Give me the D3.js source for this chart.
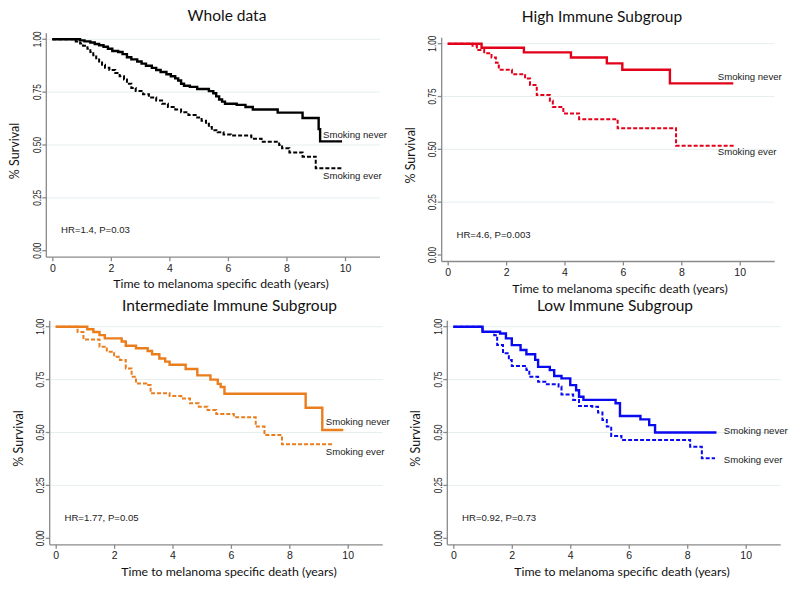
<!DOCTYPE html>
<html lang="en">

<head>
  <title>Kaplan-Meier curves</title>
  <meta charset="UTF-8">
  <script src="https://cdn.jsdelivr.net/npm/d3@7"></script>
  <style>
    body { margin: 0; background: #fff; }
  </style>
</head>

<body>
  <svg id="chart" width="800" height="591"></svg>
  <script>
    // [time in years, survival] at each step
    var wholeNever = [[0, 1], [0.95, 0.995], [1.1, 0.99], [1.3, 0.985], [1.45, 0.978], [1.6, 0.972], [1.75, 0.965],
      [1.9, 0.955], [2.05, 0.945], [2.25, 0.94], [2.4, 0.93], [2.55, 0.915], [2.7, 0.905], [2.9, 0.895], [3.05, 0.885],
      [3.2, 0.875], [3.4, 0.865], [3.55, 0.855], [3.7, 0.845], [3.9, 0.835], [4.05, 0.825], [4.2, 0.815], [4.3, 0.805],
      [4.4, 0.79], [4.5, 0.78], [4.7, 0.775], [4.95, 0.765], [5.35, 0.755], [5.5, 0.745], [5.6, 0.73], [5.7, 0.715],
      [5.8, 0.705], [5.9, 0.695], [6.3, 0.69], [6.6, 0.68], [6.85, 0.668], [7.7, 0.653], [8.55, 0.628], [9.1, 0.575],
      [9.15, 0.517], [9.9, 0.517]];
    var wholeEver = [[0, 1], [0.8, 0.99], [0.95, 0.98], [1.05, 0.97], [1.2, 0.955], [1.3, 0.94], [1.4, 0.925],
      [1.5, 0.91], [1.6, 0.895], [1.7, 0.88], [1.8, 0.865], [1.95, 0.855], [2.15, 0.84], [2.3, 0.825], [2.45, 0.81],
      [2.55, 0.79], [2.7, 0.77], [2.85, 0.755], [3.1, 0.74], [3.3, 0.725], [3.55, 0.71], [3.75, 0.695], [3.95, 0.68],
      [4.2, 0.668], [4.4, 0.655], [4.65, 0.642], [4.95, 0.63], [5.1, 0.615], [5.25, 0.6], [5.35, 0.585], [5.45, 0.57],
      [5.65, 0.56], [5.85, 0.55], [6.1, 0.545], [6.8, 0.53], [7.15, 0.515], [7.75, 0.5], [7.85, 0.485], [8.1, 0.465],
      [8.55, 0.445], [9.0, 0.39], [9.9, 0.39]];

    var highNever = [[0, 1], [1.16, 0.981], [2.61, 0.959], [4.22, 0.935], [5.45, 0.907], [5.98, 0.877],
      [7.61, 0.812], [9.78, 0.812]];
    var highEver = [[0, 1], [0.85, 0.99], [1.0, 0.97], [1.25, 0.955], [1.5, 0.935], [1.65, 0.91], [1.75, 0.877],
      [2.2, 0.856], [2.65, 0.835], [2.82, 0.805], [3.05, 0.757], [3.5, 0.73], [3.6, 0.7], [3.96, 0.67],
      [4.5, 0.643], [5.82, 0.6], [7.82, 0.517], [9.8, 0.517]];

    var interNever = [[0, 1], [1.08, 0.988], [1.29, 0.975], [1.5, 0.96], [1.68, 0.945], [2.26, 0.93], [2.4, 0.91],
      [2.75, 0.898], [3.15, 0.885], [3.3, 0.87], [3.55, 0.85], [3.75, 0.835], [3.9, 0.82], [4.45, 0.8], [4.85, 0.77],
      [5.3, 0.75], [5.55, 0.73], [5.65, 0.715], [5.78, 0.683], [8.56, 0.617], [9.13, 0.512], [9.85, 0.512]];
    var interEver = [[0, 1], [0.75, 0.975], [0.95, 0.94], [1.5, 0.905], [1.75, 0.882], [2.0, 0.858], [2.2, 0.843],
      [2.4, 0.803], [2.6, 0.764], [2.75, 0.732], [3.1, 0.724], [3.25, 0.685], [3.9, 0.672], [4.3, 0.661],
      [4.6, 0.638], [4.9, 0.622], [5.2, 0.606], [5.5, 0.587], [6.1, 0.572], [6.85, 0.528], [7.15, 0.488],
      [7.75, 0.444], [9.5, 0.444]];

    var lowNever = [[0, 1], [1.0, 0.976], [1.6, 0.968], [1.8, 0.945], [2.0, 0.913], [2.3, 0.89], [2.5, 0.87],
      [2.8, 0.843], [2.9, 0.81], [3.3, 0.795], [3.45, 0.767], [3.7, 0.756], [4.0, 0.724], [4.2, 0.7], [4.3, 0.669],
      [4.45, 0.654], [5.55, 0.638], [5.7, 0.578], [6.4, 0.562], [6.7, 0.535], [6.9, 0.5], [9.0, 0.5]];
    var lowEver = [[0, 1], [1.0, 0.975], [1.4, 0.96], [1.5, 0.913], [1.7, 0.874], [1.9, 0.843], [2.0, 0.814],
      [2.5, 0.795], [2.6, 0.764], [2.9, 0.74], [3.2, 0.728], [3.6, 0.717], [3.7, 0.68], [4.1, 0.654], [4.3, 0.625],
      [4.75, 0.622], [4.95, 0.594], [5.1, 0.559], [5.25, 0.528], [5.4, 0.484], [5.75, 0.465], [8.1, 0.433],
      [8.5, 0.378], [8.95, 0.378]];

    var titles = ["Whole data", "High Immune Subgroup", "Intermediate Immune Subgroup", "Low Immune Subgroup"];
    var hrLabels = ["HR=1.4, P=0.03", "HR=4.6, P=0.003", "HR=1.77, P=0.05", "HR=0.92, P=0.73"];
    var colors = ["#000000", "#e2001a", "#ea7d1c", "#0a0af0"];
    var groupNames = ["Smoking never", "Smoking ever"];
    var xTicks = [0, 2, 4, 6, 8, 10];
    var yTicks = [0, 0.25, 0.5, 0.75, 1];

    var curves = [[wholeNever, wholeEver], [highNever, highEver], [interNever, interEver], [lowNever, lowEver]];

    // plot frame of each panel (pixels)
    var frames = [
      { x0: 52.3, x1: 345, yTop: 39.3, yBot: 250.7 },
      { x0: 447.7, x1: 739.7, yTop: 43.7, yBot: 255 },
      { x0: 55.7, x1: 347.7, yTop: 326.7, yBot: 538.3 },
      { x0: 453.3, x1: 745.7, yTop: 326.7, yBot: 538.3 }
    ];
    // baseline of the group labels, in survival units, never / ever
    var labelY = [[0.535, 0.34], [0.83, 0.475], [0.535, 0.394], [0.493, 0.357]];
    var titlePos = [[227, 21], [602, 22], [229.5, 311], [615, 311]];
    var xTitleX = [221, 620, 229, 622];

    var sans = "'Liberation Sans', Arial, sans-serif";
    var svg = d3.select("#chart");

    frames.forEach(function (f, i) {
      var x = d3.scaleLinear().domain([0, 10]).range([f.x0, f.x1]);
      var y = d3.scaleLinear().domain([0, 1]).range([f.yBot, f.yTop]);
      var left = f.x0 - 6, bottom = f.yBot + 6.5, right = f.x1 + 35;
      var g = svg.append("g");

      // gridlines
      g.selectAll(".grid").data(yTicks.filter(function (d) { return d > 0; })).enter()
        .append("line")
        .attr("x1", left).attr("x2", right)
        .attr("y1", function (d) { return y(d); }).attr("y2", function (d) { return y(d); })
        .attr("stroke", "#e6eff0").attr("stroke-width", 1);

      // y axis
      var ya = g.append("g").attr("transform", "translate(" + left + ",0)")
        .call(d3.axisLeft(y).tickValues(yTicks).tickFormat(d3.format(".2f")).tickSize(4).tickSizeOuter(0));
      ya.select(".domain").attr("d", "M0," + (f.yTop - 6) + "V" + bottom);
      ya.selectAll("path, line").attr("stroke", "#8a8a8a").attr("stroke-width", 1.3);
      ya.selectAll(".tick").attr("transform", null);
      ya.selectAll(".tick line").attr("y1", function (d) { return y(d); }).attr("y2", function (d) { return y(d); });
      ya.selectAll("text")
        .attr("x", 0).attr("y", 0).attr("dy", 0)
        .attr("transform", function (d) { return "translate(-5.5," + y(d) + ") rotate(-90) scale(0.78,1)"; })
        .attr("text-anchor", "middle")
        .style("font-family", sans).style("font-size", "10.5px").attr("fill", "#222");

      // x axis
      var xa = g.append("g").attr("transform", "translate(0," + bottom + ")")
        .call(d3.axisBottom(x).tickValues(xTicks).tickSize(4).tickSizeOuter(0));
      xa.select(".domain").attr("d", "M" + left + ",0H" + right);
      xa.selectAll("path, line").attr("stroke", "#8a8a8a").attr("stroke-width", 1.3);
      xa.selectAll("text").attr("y", 7).style("font-family", sans)
        .style("font-size", "10.5px").attr("fill", "#222");

      // curves
      var line = d3.line().curve(d3.curveStepAfter)
        .x(function (d) { return x(d[0]); }).y(function (d) { return y(d[1]); });
      g.append("path").datum(curves[i][0]).attr("d", line)
        .attr("fill", "none").attr("stroke", colors[i]).attr("stroke-width", 2.4);
      g.append("path").datum(curves[i][1]).attr("d", line)
        .attr("fill", "none").attr("stroke", colors[i]).attr("stroke-width", 2)
        .attr("stroke-dasharray", "4,2");

      // group labels
      labelY[i].forEach(function (v, k) {
        g.append("text").attr("x", x(9.25)).attr("y", y(v)).text(groupNames[k])
          .style("font-family", sans).style("font-size", "9.6px").attr("fill", "#222");
      });

      // HR annotation
      g.append("text").attr("x", x(0.3)).attr("y", y(0.082)).text(hrLabels[i])
        .style("font-family", sans).style("font-size", "9.6px").attr("fill", "#222");

      // titles
      g.append("text").attr("x", titlePos[i][0]).attr("y", titlePos[i][1]).attr("text-anchor", "middle")
        .text(titles[i]).style("font-family", "Lato, sans-serif").style("font-size", "15.5px").attr("fill", "#111");
      g.append("text").attr("x", xTitleX[i]).attr("y", bottom + 31).attr("text-anchor", "middle")
        .text("Time to melanoma specific death (years)")
        .style("font-family", "Lato, sans-serif").style("font-size", "12.3px").attr("fill", "#111");
      g.append("text").attr("transform", "translate(" + (left - 27) + "," + (y(0.5) + 6) + ") rotate(-90)")
        .attr("text-anchor", "middle").text("% Survival")
        .style("font-family", "Lato, sans-serif").style("font-size", "12.5px").attr("fill", "#111");
    });
  </script>
</body>

</html>
